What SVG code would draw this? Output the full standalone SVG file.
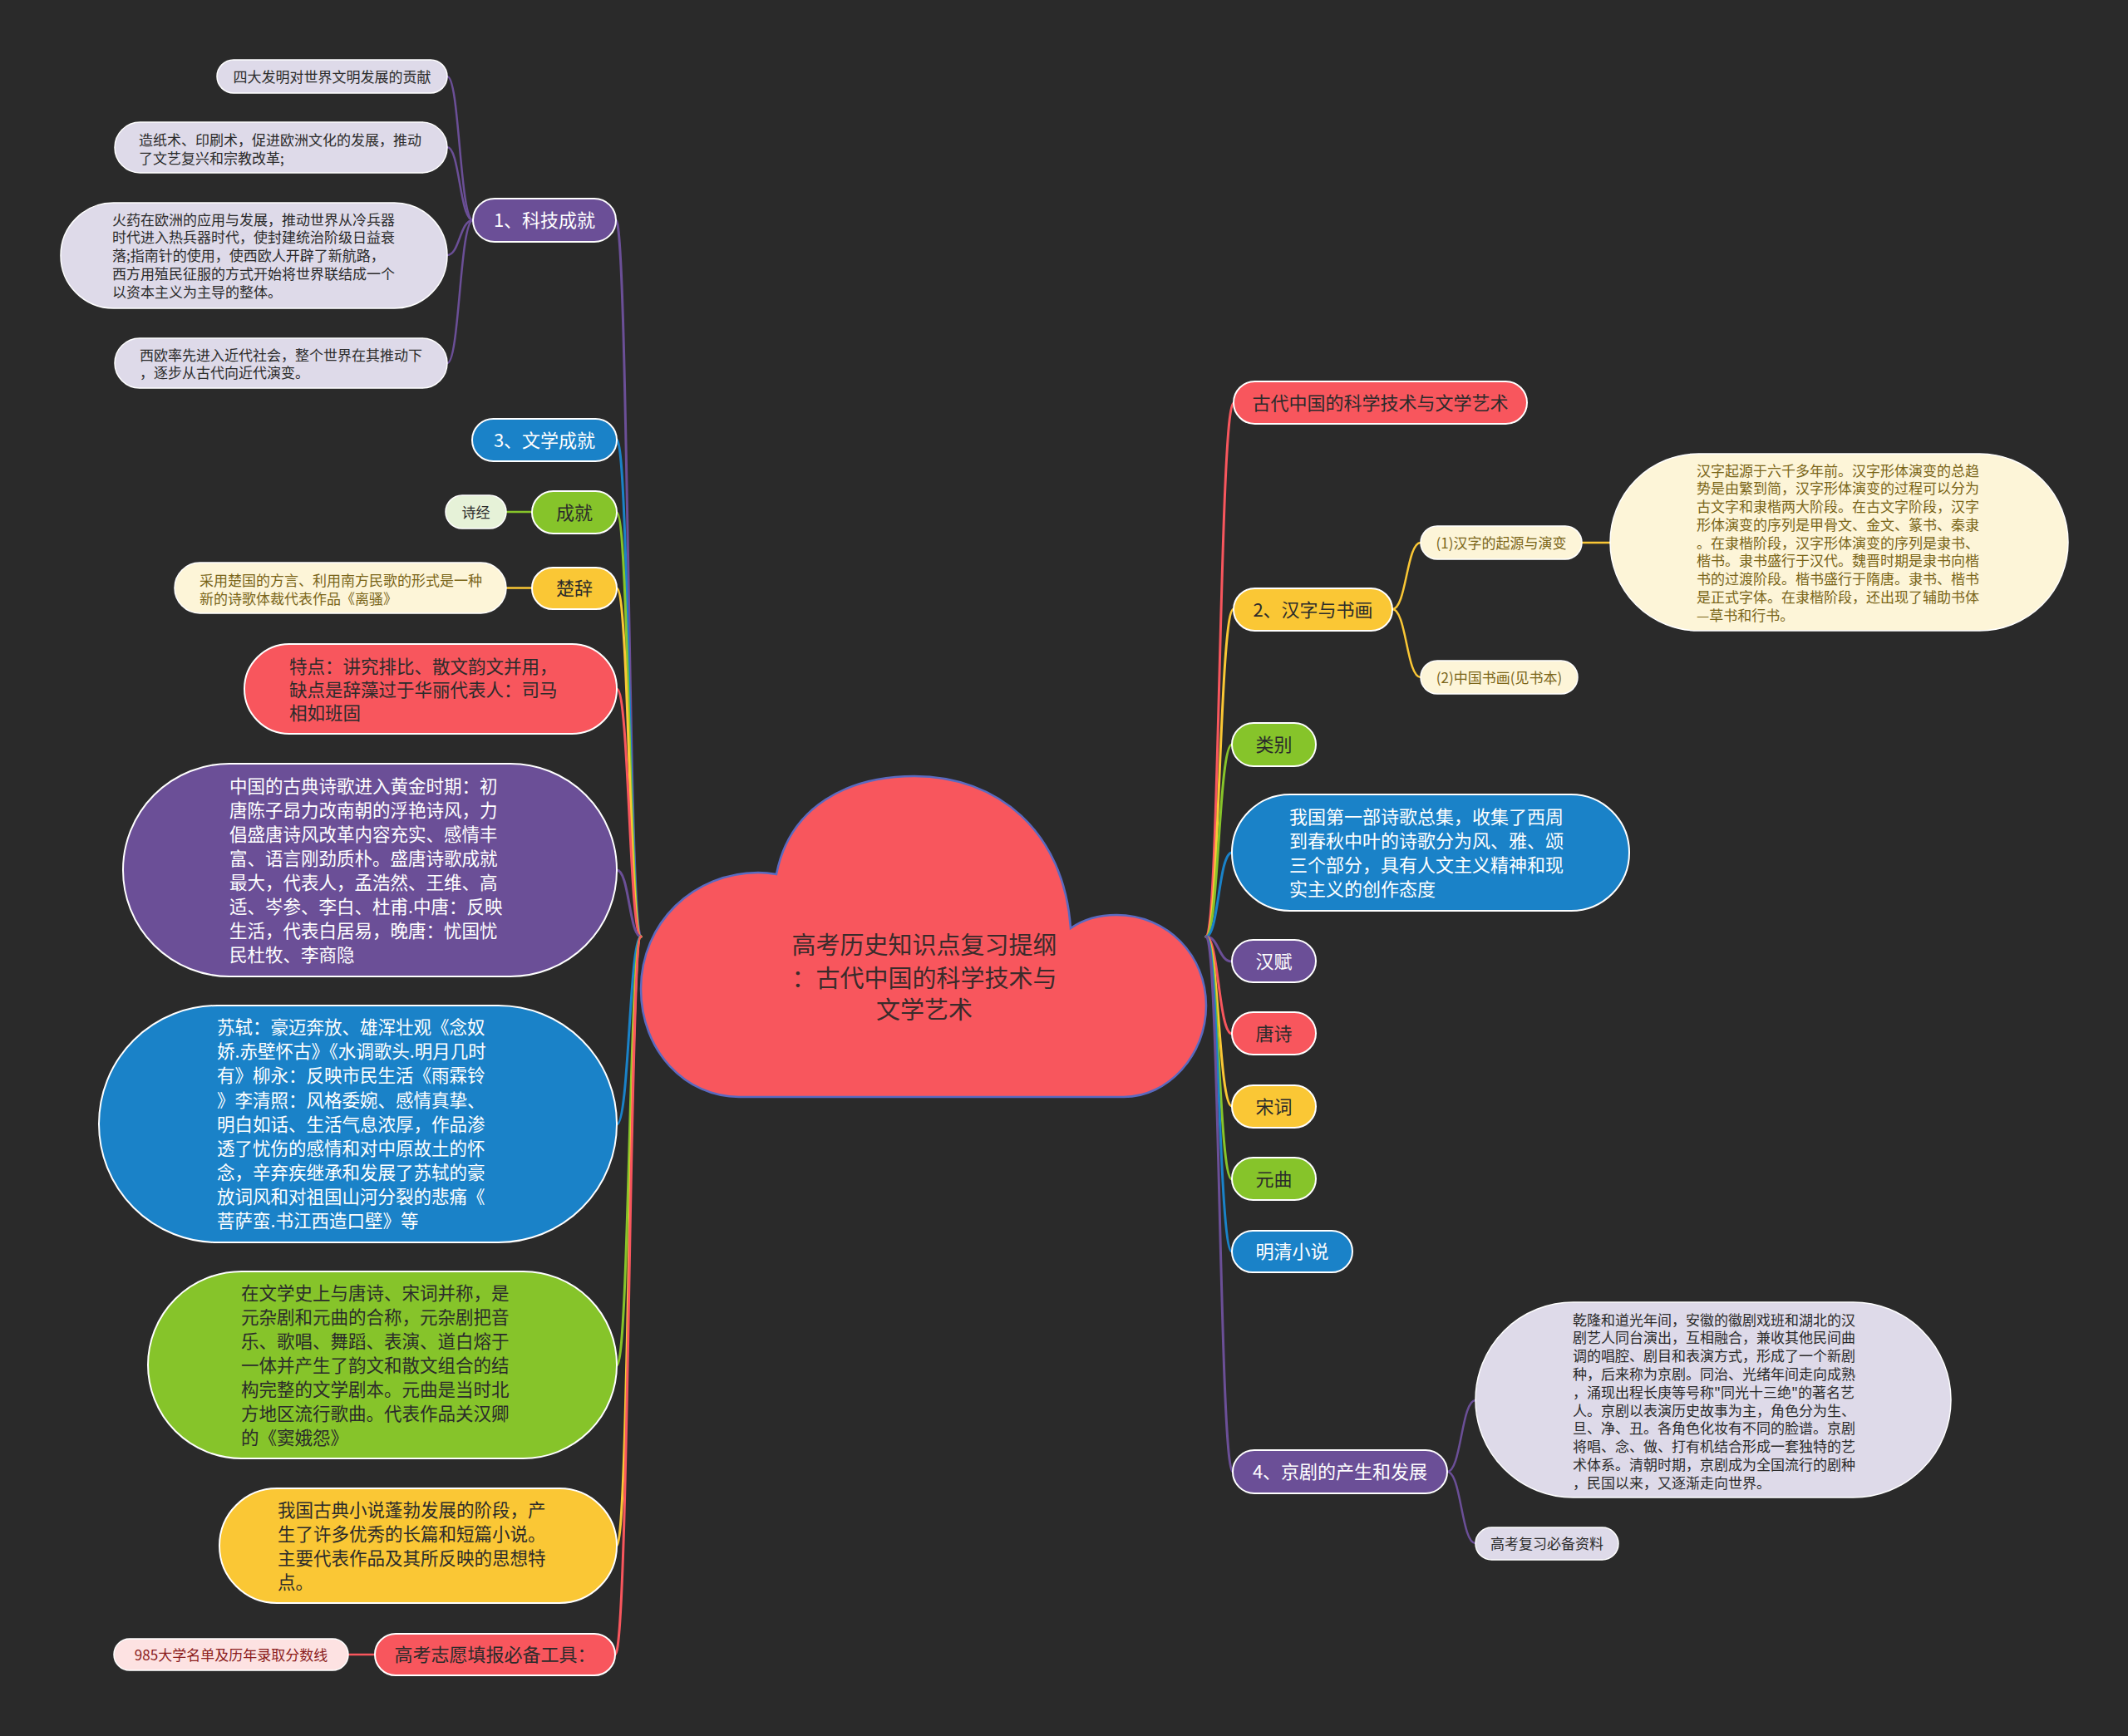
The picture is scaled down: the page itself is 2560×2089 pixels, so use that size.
<svg xmlns="http://www.w3.org/2000/svg" width="2560" height="2089" viewBox="0 0 2560 2089">
<style>
text{font-family:"Noto Sans CJK SC","Noto Sans",sans-serif;}
.s17{font-size:17px}.s21{font-size:21.5px}.s22{font-size:22px}.s29{font-size:29px}
.m{text-anchor:middle}
.n{stroke:#ffffff;stroke-width:2}
.l{stroke:#ffffff;stroke-width:1.5}
.pu{fill:#6b4f97}.bl{fill:#1a82c8}.gr{fill:#86c42a}.ye{fill:#fac735}.re{fill:#f8565d}
.lav{fill:#dedae9}.cr{fill:#fdf5d8}.lg{fill:#e6f2d8}.lp{fill:#fde2e2}
.tw{fill:#ffffff}.td{fill:#2b2b2b}.to{fill:#7a6518}.tr{fill:#8b1c1c}
.c{fill:none;stroke-width:3;stroke-linecap:round}
.c2{fill:none;stroke-width:2.5;stroke-linecap:round}
.cpu{stroke:#6b4f97}.cbl{stroke:#1a82c8}.cgr{stroke:#86c42a}.cye{stroke:#fac735}.cre{stroke:#f8565d}
</style>
<rect width="2560" height="2089" fill="#2a2a2a"/>

<g id="connectors">
<!-- left main -->
<path class="c cpu" d="M771,1127 C756,1127 756,265 741,265"/>
<path class="c cbl" d="M771,1127 C757,1127 757,529 742,529"/>
<path class="c cgr" d="M771,1127 C757,1127 757,617 742,617"/>
<path class="c cye" d="M771,1127 C757,1127 757,708 742,708"/>
<path class="c cre" d="M771,1127 C757,1127 757,829 742,829"/>
<path class="c cpu" d="M771,1127 C757,1127 757,1047 742,1047"/>
<path class="c cbl" d="M771,1127 C757,1127 757,1353 742,1353"/>
<path class="c cgr" d="M771,1127 C757,1127 757,1643 742,1643"/>
<path class="c cye" d="M771,1127 C757,1127 757,1860 742,1860"/>
<path class="c cre" d="M771,1127 C757,1127 757,1991 740,1991"/>
<!-- right main -->
<path class="c cre" d="M1451,1127 C1467,1127 1467,485 1484,485"/>
<path class="c cye" d="M1451,1127 C1467,1127 1467,733 1484,733"/>
<path class="c cgr" d="M1451,1127 C1466,1127 1466,896 1482,896"/>
<path class="c cbl" d="M1451,1127 C1466,1127 1466,1026 1482,1026"/>
<path class="c cpu" d="M1451,1127 C1466,1127 1466,1157 1482,1157"/>
<path class="c cre" d="M1451,1127 C1466,1127 1466,1244 1482,1244"/>
<path class="c cye" d="M1451,1127 C1466,1127 1466,1331 1482,1331"/>
<path class="c cgr" d="M1451,1127 C1466,1127 1466,1419 1482,1419"/>
<path class="c cbl" d="M1451,1127 C1466,1127 1466,1506 1482,1506"/>
<path class="c cpu" d="M1451,1127 C1467,1127 1467,1771 1483,1771"/>
<!-- sub -->
<path class="c2 cpu" d="M569,265 C553,265 553,92 538,92"/>
<path class="c2 cpu" d="M569,265 C553,265 553,177 538,177"/>
<path class="c2 cpu" d="M569,265 C553,265 553,307 538,307"/>
<path class="c2 cpu" d="M569,265 C553,265 553,437 538,437"/>
<path class="c2 cgr" d="M609,616 L640,616"/>
<path class="c2 cye" d="M609,707.5 L640,707.5"/>
<path class="c2 cre" d="M419,1991 L451,1991"/>
<path class="c2 cye" d="M1675,733 C1692,733 1692,653 1709,653"/>
<path class="c2 cye" d="M1675,733 C1692,733 1692,815 1709,815"/>
<path class="c2 cye" d="M1903,653 L1937,653"/>
<path class="c2 cpu" d="M1741,1771 C1758,1771 1758,1685 1775,1685"/>
<path class="c2 cpu" d="M1741,1771 C1758,1771 1758,1857 1775,1857"/>
</g>

<g id="root">
<path d="M889,1320 C825,1320 771,1265 771,1190 C771,1110 835,1050 912,1050 C920,1050 928,1051 934,1052 C950,970 1020,934 1100,934 C1200,934 1280,1000 1288,1117 C1305,1105 1325,1101 1343,1101 C1405,1101 1451,1150 1451,1210 C1451,1270 1405,1320 1352,1320 Z" fill="#f8565d" stroke="#5a6ac0" stroke-width="2.5"/>
<text class="s29 m" fill="#3a2b2b" x="1112"><tspan x="1112" y="1148">高考历史知识点复习提纲</tspan><tspan x="1112" y="1188">：古代中国的科学技术与</tspan><tspan x="1112" y="1226">文学艺术</tspan></text>
</g>

<g id="n-keji">
<rect class="n pu" x="569" y="239" width="172" height="52" rx="26"/>
<text class="s22 m tw" x="655" y="273.4">1、科技成就</text>
</g>
<g id="n-sida">
<rect class="l lav" x="261" y="72" width="277" height="40" rx="20"/>
<text class="s17 m td" x="399.5" y="98.5">四大发明对世界文明发展的贡献</text>
</g>
<g id="n-zaozhi">
<rect class="l lav" x="138" y="147" width="400" height="61" rx="30.5"/>
<text class="s17 td"><tspan x="167" y="174.5">造纸术、印刷术，促进欧洲文化的发展，推动</tspan><tspan x="167" y="196.5">了文艺复兴和宗教改革;</tspan></text>
</g>
<g id="n-huoyao">
<rect class="l lav" x="73" y="244" width="465" height="127" rx="63.5"/>
<text class="s17 td"><tspan x="135" y="270.5">火药在欧洲的应用与发展，推动世界从冷兵器</tspan><tspan x="135" y="292.3">时代进入热兵器时代，使封建统治阶级日益衰</tspan><tspan x="135" y="314">落;指南针的使用，使西欧人开辟了新航路，</tspan><tspan x="135" y="335.8">西方用殖民征服的方式开始将世界联结成一个</tspan><tspan x="135" y="357.5">以资本主义为主导的整体。</tspan></text>
</g>
<g id="n-xiou">
<rect class="l lav" x="138" y="407" width="400" height="60" rx="30"/>
<text class="s17 td"><tspan x="168" y="433.5">西欧率先进入近代社会，整个世界在其推动下</tspan><tspan x="168" y="455">，逐步从古代向近代演变。</tspan></text>
</g>

<g id="n-wenxue">
<rect class="n bl" x="568" y="504" width="174" height="51" rx="25.5"/>
<text class="s22 m tw" x="655" y="538">3、文学成就</text>
</g>
<g id="n-shijing">
<rect class="l lg" x="536" y="596" width="73" height="40" rx="20"/>
<text class="s17 m td" x="572.5" y="622.5">诗经</text>
</g>
<g id="n-chengjiu">
<rect class="n gr" x="640" y="591" width="102" height="51" rx="25.5"/>
<text class="s22 m td" x="691" y="625">成就</text>
</g>
<g id="n-caiyong">
<rect class="l cr" x="210" y="677" width="399" height="61" rx="30.5"/>
<text class="s17 to"><tspan x="240" y="704.5">采用楚国的方言、利用南方民歌的形式是一种</tspan><tspan x="240" y="726.5">新的诗歌体裁代表作品《离骚》</tspan></text>
</g>
<g id="n-chuci">
<rect class="n ye" x="640" y="683" width="102" height="50" rx="25"/>
<text class="s22 m td" x="691" y="716.4">楚辞</text>
</g>
<g id="n-tedian">
<rect class="n re" x="294" y="775" width="448" height="108" rx="54"/>
<text class="s21 td"><tspan x="348" y="810.2">特点：讲究排比、散文韵文并用，</tspan><tspan x="348" y="838.2">缺点是辞藻过于华丽代表人：司马</tspan><tspan x="348" y="866.2">相如班固</tspan></text>
</g>
<g id="n-tangshi-text">
<rect class="n pu" x="148" y="919" width="594" height="256" rx="128"/>
<text class="s21 tw"><tspan x="276" y="954.2">中国的古典诗歌进入黄金时期：初</tspan><tspan x="276" y="983.1">唐陈子昂力改南朝的浮艳诗风，力</tspan><tspan x="276" y="1012">倡盛唐诗风改革内容充实、感情丰</tspan><tspan x="276" y="1040.9">富、语言刚劲质朴。盛唐诗歌成就</tspan><tspan x="276" y="1069.8">最大，代表人，孟浩然、王维、高</tspan><tspan x="276" y="1098.7">适、岑参、李白、杜甫.中唐：反映</tspan><tspan x="276" y="1127.6">生活，代表白居易，晚唐：忧国忧</tspan><tspan x="276" y="1156.5">民杜牧、李商隐</tspan></text>
</g>
<g id="n-songci-text">
<rect class="n bl" x="119" y="1210" width="623" height="285" rx="142.5"/>
<text class="s21 tw"><tspan x="261" y="1244.2">苏轼：豪迈奔放、雄浑壮观《念奴</tspan><tspan x="261" y="1273.3">娇.赤壁怀古》《水调歌头.明月几时</tspan><tspan x="261" y="1302.4">有》柳永：反映市民生活《雨霖铃</tspan><tspan x="261" y="1331.5">》李清照：风格委婉、感情真挚、</tspan><tspan x="261" y="1360.6">明白如话、生活气息浓厚，作品渗</tspan><tspan x="261" y="1389.7">透了忧伤的感情和对中原故土的怀</tspan><tspan x="261" y="1418.8">念，辛弃疾继承和发展了苏轼的豪</tspan><tspan x="261" y="1447.9">放词风和对祖国山河分裂的悲痛《</tspan><tspan x="261" y="1477">菩萨蛮.书江西造口壁》等</tspan></text>
</g>
<g id="n-yuanqu-text">
<rect class="n gr" x="178" y="1530" width="564" height="225" rx="112.5"/>
<text class="s21 td"><tspan x="290" y="1564.2">在文学史上与唐诗、宋词并称，是</tspan><tspan x="290" y="1593.2">元杂剧和元曲的合称，元杂剧把音</tspan><tspan x="290" y="1622.2">乐、歌唱、舞蹈、表演、道白熔于</tspan><tspan x="290" y="1651.2">一体并产生了韵文和散文组合的结</tspan><tspan x="290" y="1680.2">构完整的文学剧本。元曲是当时北</tspan><tspan x="290" y="1709.2">方地区流行歌曲。代表作品关汉卿</tspan><tspan x="290" y="1738.2">的《窦娥怨》</tspan></text>
</g>
<g id="n-xiaoshuo-text">
<rect class="n ye" x="264" y="1791" width="478" height="138" rx="69"/>
<text class="s21 td"><tspan x="334" y="1825.2">我国古典小说蓬勃发展的阶段，产</tspan><tspan x="334" y="1854.2">生了许多优秀的长篇和短篇小说。</tspan><tspan x="334" y="1883.2">主要代表作品及其所反映的思想特</tspan><tspan x="334" y="1912.2">点。</tspan></text>
</g>
<g id="n-zhiyuan">
<rect class="n re" x="451" y="1966" width="289" height="50" rx="25"/>
<text class="s22 m td" x="595.5" y="1999.4">高考志愿填报必备工具：</text>
</g>
<g id="n-985">
<rect class="l lp" x="137" y="1972" width="282" height="38" rx="19"/>
<text class="s17 m tr" x="278" y="1997.5">985大学名单及历年录取分数线</text>
</g>

<g id="n-gudai">
<rect class="n re" x="1484" y="459" width="353" height="51" rx="25.5"/>
<text class="s22 m td" x="1660.5" y="493">古代中国的科学技术与文学艺术</text>
</g>
<g id="n-hanzi">
<rect class="n ye" x="1484" y="708" width="191" height="51" rx="25.5"/>
<text class="s22 m td" x="1579.5" y="742">2、汉字与书画</text>
</g>
<g id="n-qiyuan">
<rect class="l cr" x="1709" y="633" width="194" height="40" rx="20"/>
<text class="s17 m to" x="1806" y="659.5">(1)汉字的起源与演变</text>
</g>
<g id="n-shuhua">
<rect class="l cr" x="1709" y="795" width="189" height="40" rx="20"/>
<text class="s17 m to" x="1803.5" y="821.5">(2)中国书画(见书本)</text>
</g>
<g id="n-hanzi-text">
<rect class="l cr" x="1937" y="546" width="551" height="213" rx="106.5"/>
<text class="s17 to"><tspan x="2041" y="572.5">汉字起源于六千多年前。汉字形体演变的总趋</tspan><tspan x="2041" y="594.3">势是由繁到简，汉字形体演变的过程可以分为</tspan><tspan x="2041" y="616">古文字和隶楷两大阶段。在古文字阶段，汉字</tspan><tspan x="2041" y="637.8">形体演变的序列是甲骨文、金文、篆书、秦隶</tspan><tspan x="2041" y="659.5">。在隶楷阶段，汉字形体演变的序列是隶书、</tspan><tspan x="2041" y="681.3">楷书。隶书盛行于汉代。魏晋时期是隶书向楷</tspan><tspan x="2041" y="703">书的过渡阶段。楷书盛行于隋唐。隶书、楷书</tspan><tspan x="2041" y="724.8">是正式字体。在隶楷阶段，还出现了辅助书体</tspan><tspan x="2041" y="746.5">—草书和行书。</tspan></text>
</g>
<g id="n-leibie">
<rect class="n gr" x="1482" y="870" width="101" height="52" rx="26"/>
<text class="s22 m td" x="1532.5" y="904.4">类别</text>
</g>
<g id="n-shijing-text">
<rect class="n bl" x="1482" y="956" width="478" height="140" rx="70"/>
<text class="s22 tw"><tspan x="1551" y="991.4">我国第一部诗歌总集，收集了西周</tspan><tspan x="1551" y="1020.4">到春秋中叶的诗歌分为风、雅、颂</tspan><tspan x="1551" y="1049.4">三个部分，具有人文主义精神和现</tspan><tspan x="1551" y="1078.4">实主义的创作态度</tspan></text>
</g>
<g id="n-hanfu">
<rect class="n pu" x="1482" y="1131" width="101" height="51" rx="25.5"/>
<text class="s22 m tw" x="1532.5" y="1165">汉赋</text>
</g>
<g id="n-tangshi">
<rect class="n re" x="1482" y="1218" width="101" height="51" rx="25.5"/>
<text class="s22 m td" x="1532.5" y="1252">唐诗</text>
</g>
<g id="n-songci">
<rect class="n ye" x="1482" y="1306" width="101" height="51" rx="25.5"/>
<text class="s22 m td" x="1532.5" y="1340">宋词</text>
</g>
<g id="n-yuanqu">
<rect class="n gr" x="1482" y="1393" width="101" height="51" rx="25.5"/>
<text class="s22 m td" x="1532.5" y="1427">元曲</text>
</g>
<g id="n-mingqing">
<rect class="n bl" x="1482" y="1481" width="145" height="50" rx="25"/>
<text class="s22 m tw" x="1554.5" y="1514.4">明清小说</text>
</g>
<g id="n-jingju">
<rect class="n pu" x="1483" y="1745" width="258" height="52" rx="26"/>
<text class="s22 m tw" x="1612" y="1779.4">4、京剧的产生和发展</text>
</g>
<g id="n-jingju-text">
<rect class="l lav" x="1775" y="1567" width="572" height="235" rx="117.5"/>
<text class="s17 td"><tspan x="1892" y="1594.5">乾隆和道光年间，安徽的徽剧戏班和湖北的汉</tspan><tspan x="1892" y="1616.3">剧艺人同台演出，互相融合，兼收其他民间曲</tspan><tspan x="1892" y="1638.1">调的唱腔、剧目和表演方式，形成了一个新剧</tspan><tspan x="1892" y="1659.9">种，后来称为京剧。同治、光绪年间走向成熟</tspan><tspan x="1892" y="1681.7">，涌现出程长庚等号称"同光十三绝"的著名艺</tspan><tspan x="1892" y="1703.5">人。京剧以表演历史故事为主，角色分为生、</tspan><tspan x="1892" y="1725.3">旦、净、丑。各角色化妆有不同的脸谱。京剧</tspan><tspan x="1892" y="1747.1">将唱、念、做、打有机结合形成一套独特的艺</tspan><tspan x="1892" y="1768.9">术体系。清朝时期，京剧成为全国流行的剧种</tspan><tspan x="1892" y="1790.7">，民国以来，又逐渐走向世界。</tspan></text>
</g>
<g id="n-ziliao">
<rect class="l lav" x="1775" y="1838" width="172" height="39" rx="19.5"/>
<text class="s17 m td" x="1861" y="1864">高考复习必备资料</text>
</g>
</svg>
